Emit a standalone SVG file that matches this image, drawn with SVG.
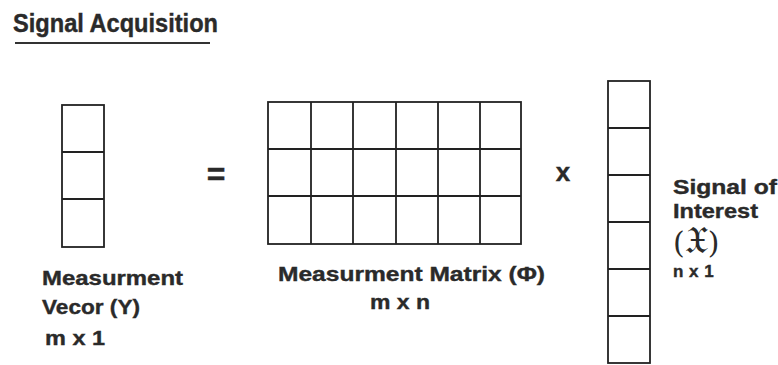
<svg xmlns="http://www.w3.org/2000/svg" width="778" height="365" viewBox="0 0 778 365">
<style>
.t{font-family:"Liberation Sans",Arial,sans-serif;font-weight:bold;fill:#2a2a2a;stroke:#2a2a2a;stroke-width:0.4}
.g{fill:#fff;stroke:#222;stroke-width:1.8}
.l{stroke:#222;stroke-width:1.8;fill:none}
</style>
<rect width="778" height="365" fill="#fff"/>
<g id="title">
<text class="t" x="13" y="32" font-size="25" textLength="205" lengthAdjust="spacingAndGlyphs">Signal Acquisition</text>
<line x1="15" y1="43" x2="210" y2="43" stroke="#333" stroke-width="2.2"/>
</g>
<g id="vectorY">
<rect class="g" x="62" y="105" width="42" height="142"/>
<path class="l" d="M62 152H104M62 199H104"/>
<text class="t" x="42" y="285" font-size="21" textLength="141" lengthAdjust="spacingAndGlyphs">Measurment</text>
<text class="t" x="42" y="314" font-size="21" textLength="98" lengthAdjust="spacingAndGlyphs">Vecor (Y)</text>
<text class="t" x="45" y="345" font-size="21" textLength="60" lengthAdjust="spacingAndGlyphs">m x 1</text>
</g>
<g id="equals">
<text class="t" x="216" y="185" font-size="32" text-anchor="middle">=</text>
</g>
<g id="matrixPhi">
<rect class="g" x="268" y="102" width="253" height="142"/>
<path class="l" d="M311 102V244M353 102V244M396 102V244M438 102V244M480 102V244M268 149H521M268 196H521"/>
<text class="t" x="278" y="281" font-size="21" textLength="267" lengthAdjust="spacingAndGlyphs">Measurment Matrix (Φ)</text>
<text class="t" x="370" y="309" font-size="21" textLength="60" lengthAdjust="spacingAndGlyphs">m x n</text>
</g>
<g id="times">
<text class="t" x="563" y="181" font-size="26" text-anchor="middle">x</text>
</g>
<g id="signalX">
<rect class="g" x="608" y="81" width="42" height="282"/>
<path class="l" d="M608 128H650M608 175H650M608 222H650M608 269H650M608 316H650"/>
<text class="t" x="673" y="194" font-size="21" textLength="104" lengthAdjust="spacingAndGlyphs">Signal of</text>
<text class="t" x="673" y="218" font-size="21" textLength="85" lengthAdjust="spacingAndGlyphs">Interest</text>
<text x="673" y="253" font-size="30" fill="#2a2a2a" font-family="'DejaVu Serif','Liberation Serif',serif">(<tspan font-size="38">𝔛</tspan>)</text>
<text class="t" x="673" y="277" font-size="17" letter-spacing="0.5">n x 1</text>
</g>
</svg>
